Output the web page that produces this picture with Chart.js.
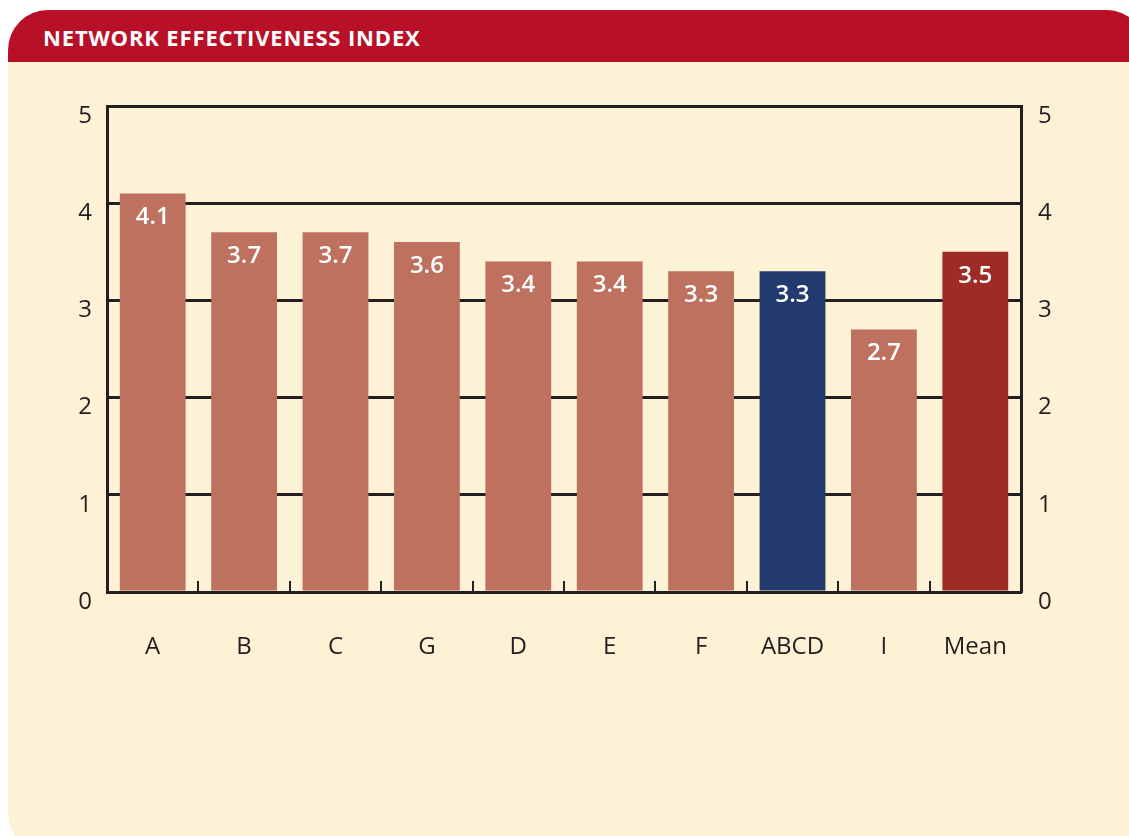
<!DOCTYPE html>
<html>
<head>
<meta charset="utf-8">
<script src="https://cdn.jsdelivr.net/npm/chart.js@4"></script>
<style>
  html, body { margin: 0; padding: 0; background: #ffffff; width: 1129px; height: 836px; overflow: hidden; }
  .panel {
    position: absolute; left: 8px; top: 10px; width: 1137px; height: 843px;
    background: #fdf1d6; border-radius: 40px 38px 40px 40px; overflow: hidden;
  }
  .panel-head {
    height: 52px; background: #b81127; color: #ffffff;
    font: bold 22px 'Open Sans', sans-serif; letter-spacing: 0.85px;
    line-height: 54px; padding-left: 35px; box-sizing: border-box;
  }
  #chart { position: absolute; left: 0; top: 0; }
</style>
</head>
<body>
<div class="panel"><div class="panel-head">NETWORK EFFECTIVENESS INDEX</div></div>
<canvas id="chart" width="1129" height="836"></canvas>
<script>
'use strict';

// ── Data ─────────────────────────────────────────────
const categories = ['A', 'B', 'C', 'G', 'D', 'E', 'F', 'ABCD', 'I', 'Mean'];
const scores     = [4.1, 3.7, 3.7, 3.6, 3.4, 3.4, 3.3, 3.3, 2.7, 3.5];
const yTicks     = [0, 1, 2, 3, 4, 5];

// ── Styles ───────────────────────────────────────────
const INK      = '#231f20';
const BAR      = '#bf7160';
const BAR_ABCD = '#233a6e';
const BAR_MEAN = '#9e2b25';
const barColors = categories.map(c => c === 'ABCD' ? BAR_ABCD : c === 'Mean' ? BAR_MEAN : BAR);

const axisFont = { family: "'Open Sans', sans-serif", size: 24 };

// value labels inside the top of each bar
const valueLabels = {
  id: 'valueLabels',
  afterDatasetsDraw(chart) {
    const ctx = chart.ctx;
    const meta = chart.getDatasetMeta(0);
    ctx.save();
    ctx.fillStyle = '#ffffff';
    ctx.font = "600 24px 'Open Sans', sans-serif";
    ctx.textAlign = 'center';
    ctx.textBaseline = 'middle';
    meta.data.forEach((bar, i) => {
      ctx.fillText(scores[i].toFixed(1), bar.x, bar.y + 24);
    });
    ctx.restore();
  }
};

// short ticks between categories, rising from the baseline
const innerTicks = {
  id: 'innerTicks',
  afterDraw(chart) {
    const x = chart.scales.x;
    const base = chart.chartArea.bottom;
    const ctx = chart.ctx;
    ctx.save();
    ctx.strokeStyle = INK;
    ctx.lineWidth = 2;
    for (let i = 1; i < categories.length; i++) {
      const px = Math.round((x.getPixelForValue(i - 1) + x.getPixelForValue(i)) / 2);
      ctx.beginPath();
      ctx.moveTo(px, base);
      ctx.lineTo(px, base - 11);
      ctx.stroke();
    }
    ctx.restore();
  }
};

new Chart(document.getElementById('chart').getContext('2d'), {
  type: 'bar',
  data: {
    labels: categories,
    datasets: [{
      data: scores,
      backgroundColor: barColors,
      borderWidth: 0,
      barPercentage: 0.72,
      categoryPercentage: 1
    }]
  },
  options: {
    responsive: false,
    animation: false,
    layout: { padding: { top: 106, left: 0, right: 0, bottom: 0 } },
    plugins: { legend: { display: false }, tooltip: { enabled: false } },
    scales: {
      x: {
        grid: { display: false, drawTicks: false },
        border: { display: true, color: INK, width: 3 },
        ticks: { color: INK, font: axisFont, padding: 41, maxRotation: 0 },
        afterFit: s => { s.height = 244; }
      },
      y: {
        position: 'left',
        min: 0, max: 5,
        z: 1,
        afterBuildTicks: s => { s.ticks = yTicks.map(v => ({ value: v })); },
        grid: { color: INK, lineWidth: 3, drawTicks: false },
        border: { display: true, color: INK, width: 3 },
        ticks: { color: INK, font: axisFont, padding: 15, labelOffset: 10 },
        afterFit: s => { s.width = 107; }
      },
      y2: {
        position: 'right',
        min: 0, max: 5,
        afterBuildTicks: s => { s.ticks = yTicks.map(v => ({ value: v })); },
        grid: { display: false, drawTicks: false },
        border: { display: true, color: INK, width: 3 },
        ticks: { color: INK, font: axisFont, padding: 17, labelOffset: 10 },
        afterFit: s => { s.width = 108; }
      }
    }
  },
  plugins: [valueLabels, innerTicks]
});
</script>
</body>
</html>
